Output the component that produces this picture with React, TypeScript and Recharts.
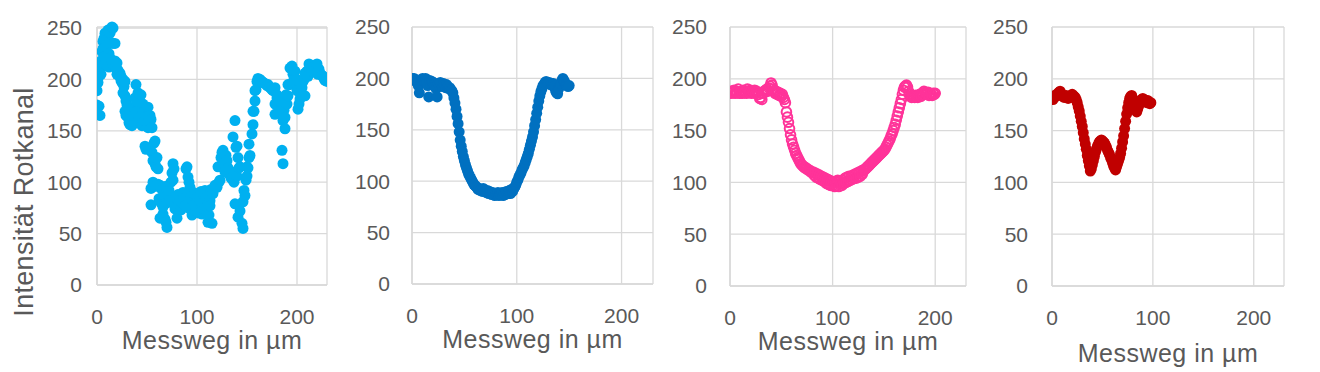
import { ScatterChart, Scatter, XAxis, YAxis, CartesianGrid } from 'recharts'

// measurement step along the profile (µm) for the evenly sampled panels
const STEP = 1

const xTicks = [0, 100, 200]
const yTicks = [0, 50, 100, 150, 200, 250]
const xTitle = 'Messweg in µm'
const yTitle = 'Intensität Rotkanal'

// panel 1: noisy profile, read as [x, y] pairs
const panel1Points: [number, number][] = [
  [0, 189], [0, 175], [1, 197], [1, 166], [2, 174], [2, 203], [3, 211], [3, 165], [4, 218], [4, 205],
  [5, 227], [5, 212], [6, 237], [6, 230], [7, 240], [7, 222], [8, 245], [8, 215], [9, 244], [9, 232],
  [10, 238], [10, 218], [11, 248], [11, 234], [12, 225], [12, 212], [13, 245], [13, 221], [14, 236], [15, 251],
  [15, 218], [16, 250], [16, 235], [17, 214], [18, 235], [18, 218], [19, 211], [20, 216], [20, 205], [21, 209],
  [22, 204], [23, 206], [24, 203], [24, 199], [25, 197], [26, 187], [26, 200], [27, 193], [28, 184], [28, 198],
  [28, 169], [29, 179], [29, 165], [30, 175], [31, 163], [31, 172], [32, 158], [33, 156], [33, 168], [34, 162],
  [35, 155], [35, 170], [36, 173], [37, 165], [38, 182], [39, 195], [39, 168], [40, 178], [41, 169], [41, 187],
  [42, 160], [43, 163], [44, 185], [44, 172], [45, 155], [46, 176], [46, 158], [47, 168], [48, 135], [48, 160],
  [49, 132], [49, 166], [50, 172], [51, 153], [51, 173], [52, 160], [53, 165], [54, 161], [54, 94], [54, 78],
  [55, 129], [55, 153], [56, 121], [56, 100], [57, 138], [58, 140], [58, 118], [59, 115], [59, 96], [60, 124],
  [61, 98], [61, 113], [62, 84], [63, 65], [63, 97], [64, 80], [65, 93], [66, 69], [66, 76], [67, 88],
  [68, 64], [69, 61], [69, 96], [70, 56], [70, 80], [71, 88], [72, 92], [73, 82], [74, 100], [75, 109],
  [76, 118], [76, 102], [77, 113], [78, 74], [79, 85], [80, 65], [81, 88], [82, 78], [83, 82], [84, 73],
  [85, 80], [86, 90], [87, 84], [88, 77], [89, 113], [90, 115], [91, 105], [92, 100], [93, 95], [93, 74],
  [94, 84], [95, 68], [96, 90], [97, 78], [98, 89], [99, 72], [100, 76], [101, 86], [102, 70], [103, 82],
  [104, 91], [105, 69], [106, 80], [107, 74], [108, 92], [109, 84], [110, 76], [111, 61], [111, 87], [112, 68],
  [113, 82], [113, 77], [114, 93], [115, 60], [116, 89], [117, 94], [118, 97], [120, 95], [121, 115], [122, 100],
  [123, 102], [124, 124], [125, 129], [126, 131], [127, 118], [128, 110], [129, 126], [130, 121], [131, 114], [132, 108],
  [133, 111], [134, 104], [136, 102], [136, 144], [137, 100], [138, 160], [138, 79], [139, 134], [140, 106], [140, 135],
  [141, 124], [141, 66], [142, 114], [143, 115], [143, 72], [145, 60], [146, 55], [146, 81], [147, 92], [148, 87],
  [149, 102], [150, 115], [150, 106], [151, 114], [152, 124], [152, 137], [153, 126], [155, 147], [156, 156], [156, 169],
  [157, 169], [158, 179], [158, 189], [159, 190], [160, 198], [161, 201], [163, 200], [165, 198], [166, 197], [168, 196],
  [170, 194], [171, 195], [173, 192], [175, 190], [176, 189], [178, 192], [178, 176], [178, 166], [180, 182], [180, 185],
  [181, 177], [182, 173], [183, 169], [183, 179], [185, 131], [186, 160], [186, 118], [187, 170], [188, 152], [188, 163],
  [189, 185], [190, 176], [191, 184], [191, 195], [193, 211], [193, 195], [195, 213], [196, 205], [197, 200], [198, 197],
  [198, 208], [200, 189], [200, 200], [201, 171], [202, 176], [203, 181], [203, 187], [205, 192], [206, 198], [207, 200],
  [208, 206], [208, 184], [210, 208], [211, 203], [212, 215], [213, 211], [215, 211], [216, 207], [218, 213], [219, 208],
  [220, 215], [221, 205], [222, 210], [223, 206], [225, 204], [226, 203], [227, 201], [228, 199], [230, 198],
]

// panel 2: y values at 0..150 µm
const panel2Values = [
  200, 199, 200, 198, 197, 196, 193, 186, 195, 198, 200,
  199, 197, 200, 196, 193, 182, 198, 195, 197, 196,
  194, 192, 190, 182, 195, 193, 196, 194, 192, 195,
  193, 191, 194, 192, 190, 191, 189, 188, 186, 181,
  176, 170, 163, 156, 148, 140, 134, 129, 124, 120,
  116, 113, 110, 107, 105, 103, 101, 99, 97, 96,
  95, 94, 92, 93, 91, 92, 90, 93, 91, 90,
  89, 91, 88, 90, 89, 87, 89, 88, 86, 88,
  87, 89, 86, 88, 87, 89, 86, 88, 87, 90,
  88, 89, 91, 88, 92, 90, 93, 94, 96, 99,
  101, 104, 106, 108, 111, 113, 115, 118, 121, 124,
  127, 131, 135, 139, 143, 148, 154, 160, 166, 172,
  178, 183, 187, 190, 193, 194, 196, 197, 196, 195,
  196, 194, 195, 193, 195, 192, 188, 186, 185, 190,
  193, 195, 198, 200, 198, 196, 194, 193, 192, 193,
]

// panel 3: y values at 0..200 µm
const panel3Values = [
  187, 186, 188, 187, 189, 186, 188, 187, 190, 186, 187,
  188, 186, 189, 187, 188, 186, 190, 188, 187, 189,
  186, 188, 187, 189, 186, 188, 187, 185, 181, 182,
  180, 186, 188, 187, 189, 190, 188, 191, 193, 196,
  194, 190, 188, 186, 188, 185, 187, 184, 186, 183,
  185, 182, 180, 177, 168, 163, 158, 152, 146, 141,
  137, 134, 131, 128, 126, 124, 122, 120, 118, 117,
  116, 115, 114, 114, 113, 112, 112, 111, 110, 110,
  110, 107, 109, 105, 108, 104, 107, 103, 106, 102,
  105, 101, 104, 99, 103, 98, 102, 97, 101, 97,
  100, 96, 101, 97, 102, 96, 101, 99, 97, 102,
  99, 104, 100, 105, 101, 106, 102, 106, 103, 107,
  104, 108, 104, 109, 105, 110, 106, 111, 108, 112,
  112, 113, 114, 115, 116, 117, 118, 119, 120, 121,
  122, 123, 124, 125, 126, 127, 128, 129, 130, 131,
  132, 134, 136, 138, 140, 142, 145, 147, 150, 153,
  156, 160, 164, 168, 172, 176, 180, 185, 189, 192,
  193, 194, 192, 188, 185, 183, 182, 184, 183, 182,
  184, 183, 182, 184, 185, 183, 186, 185, 188, 187,
  186, 185, 187, 184, 186, 185, 184, 186, 185, 186,
]

// panel 4: y values at 0..98 µm
const panel4Values = [
  181, 180, 182, 184, 183, 185, 186, 187, 188, 186,
  184, 183, 182, 183, 184, 182, 181, 183, 182, 184,
  185, 184, 183, 182, 180, 177, 173, 169, 164, 159,
  154, 148, 142, 137, 132, 126, 121, 116, 111, 113,
  117, 121, 125, 129, 132, 135, 137, 139, 140, 141,
  140, 139, 138, 136, 134, 131, 129, 127, 124, 122,
  119, 116, 114, 112, 115, 118, 121, 124, 128, 133,
  139, 145, 152, 159, 166, 172, 177, 181, 183, 184,
  181, 178, 175, 170, 168, 171, 174, 177, 179, 180,
  181, 180, 178, 179, 177, 179, 178, 176, 177,
]

const fromPairs = (pairs: [number, number][]) => pairs.map(([x, y]) => ({ x, y }))
const fromValues = (values: number[]) => values.map((y, i) => ({ x: i * STEP, y }))

const TEXT = '#595959'
const GRID = '#D9D9D9'
const FONT = '"Liberation Sans", Arial, sans-serif'

interface PanelProps {
  data: { x: number; y: number }[]
  color: string
  hollow?: boolean
  r: number
  left: number
  width: number
  yAxisWidth: number
  right: number
  tickGap: number
  xAxisHeight: number
  bottom: number
}

function Panel({ data, color, hollow, r, left, width, yAxisWidth, right, tickGap, xAxisHeight, bottom }: PanelProps) {
  const dot = (props: any) =>
    hollow ? (
      <circle cx={props.cx} cy={props.cy} r={r} fill="none" stroke={color} strokeWidth={2} />
    ) : (
      <circle cx={props.cx} cy={props.cy} r={r} fill={color} />
    )

  return (
    <div style={{ position: 'absolute', left, top: 0 }}>
      <ScatterChart width={width} height={372} margin={{ top: 27, right, bottom, left: 0 }} style={{ fontFamily: FONT }}>
        <CartesianGrid stroke={GRID} strokeWidth={1.3} />
        <XAxis
          type="number"
          dataKey="x"
          domain={[0, 230]}
          ticks={xTicks}
          allowDataOverflow
          height={xAxisHeight}
          tickSize={0}
          tickMargin={24}
          axisLine={{ stroke: GRID, strokeWidth: 1.5 }}
          tick={{ fill: TEXT, fontSize: 21 }}
          label={{ value: xTitle, position: 'insideBottom', offset: 0, fill: TEXT, fontSize: 25, letterSpacing: 0.5 }}
        />
        <YAxis
          type="number"
          dataKey="y"
          domain={[0, 250]}
          ticks={yTicks}
          width={yAxisWidth}
          tickSize={0}
          tickMargin={tickGap}
          axisLine={{ stroke: GRID, strokeWidth: 1.5 }}
          tick={{ fill: TEXT, fontSize: 21 }}
        />
        <Scatter data={data} fill={color} shape={dot} isAnimationActive={false} />
      </ScatterChart>
    </div>
  )
}

export default function App() {
  return (
    <div style={{ position: 'absolute', left: 0, top: 0, width: 1320, height: 372, background: '#fff', fontFamily: FONT }}>
      <Panel data={fromPairs(panel1Points)} color="#00B0F0" r={5.5} left={0} width={330} yAxisWidth={97} right={3} tickGap={15} xAxisHeight={64} bottom={23} />
      <Panel data={fromValues(panel2Values)} color="#0070C0" r={5.5} left={335} width={320} yAxisWidth={77} right={2} tickGap={22} xAxisHeight={64} bottom={24} />
      <Panel data={fromValues(panel3Values)} color="#FF3399" hollow r={4.8} left={660} width={310} yAxisWidth={70} right={4} tickGap={23} xAxisHeight={64} bottom={22} />
      <Panel data={fromValues(panel4Values)} color="#C00000" r={5.5} left={980} width={310} yAxisWidth={72} right={6} tickGap={24} xAxisHeight={76} bottom={10} />
      <svg width={60} height={372} style={{ position: 'absolute', left: 0, top: 0 }}>
        <text transform="translate(33,202) rotate(-90)" textAnchor="middle" fill={TEXT} fontSize={27} letterSpacing={0.3} fontFamily={FONT}>
          {yTitle}
        </text>
      </svg>
    </div>
  )
}
